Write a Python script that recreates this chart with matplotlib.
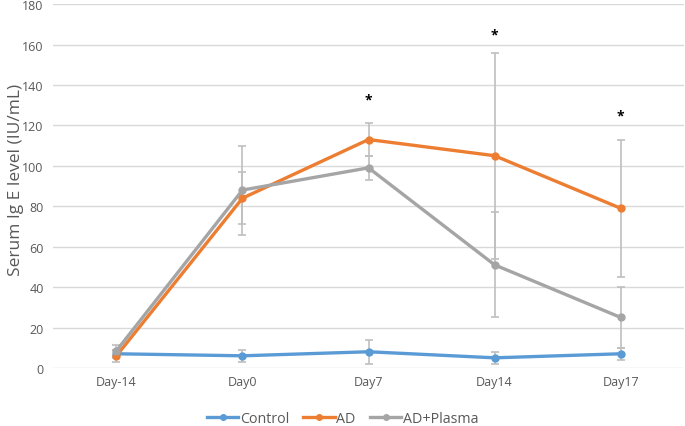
import matplotlib.pyplot as plt
import numpy as np

# --- values ---
days = ["Day-14", "Day0", "Day7", "Day14", "Day17"]
control = [7, 6, 8, 5, 7]
control_err = [2, 3, 6, 3, 3]
ad = [6, 84, 113, 105, 79]
ad_err = [3, 13, 8, 51, 34]
plasma = [8.5, 88, 99, 51, 25]
plasma_err = [3, 22, 6, 26, 15]
star_y = [None, None, 133, 165, 125]

plt.rcParams['font.family'] = ['Open Sans', 'DejaVu Sans']
text_col = "#595959"

fig = plt.figure(figsize=(6.85, 4.27), dpi=100)
ax = fig.add_axes([0.078, 0.136, 0.92, 0.852])
x = np.arange(len(days))

series = [
    (control, control_err, "#5B9BD5", "Control"),
    (ad, ad_err, "#ED7D31", "AD"),
    (plasma, plasma_err, "#A5A5A5", "AD+Plasma"),
]
for vals, err, col, lab in series:
    ax.errorbar(x, vals, yerr=err, fmt='none', ecolor="#BFBFBF",
                elinewidth=1.2, capsize=3, capthick=1.2, zorder=2)
    ax.plot(x, vals, color=col, lw=2.4, marker='o', ms=5, label=lab, zorder=3)

for i, sy in enumerate(star_y):
    if sy is not None:
        ax.text(x[i], sy, "*", ha='center', va='center', fontsize=10,
                fontweight='bold', color='black')

ax.set_xlim(-0.5, 4.5)
ax.set_ylim(0, 180)
ax.set_yticks(np.arange(0, 181, 20))
ax.set_xticks(x)
ax.set_xticklabels(days)
ax.grid(axis='y', color="#D9D9D9", lw=1, zorder=0)
ax.set_axisbelow(True)
for s in ax.spines.values():
    s.set_visible(False)
ax.tick_params(length=0, labelsize=9, colors=text_col)
ax.tick_params(axis='x', pad=5)
ax.tick_params(axis='y', pad=7)
ax.set_ylabel("Serum Ig E level (IU/mL)", fontsize=12.5, color=text_col)
ax.yaxis.set_label_coords(-0.047, 0.52)

fig.legend(loc='lower center', bbox_to_anchor=(0.5, -0.03), ncol=3, frameon=False,
           fontsize=10.3, labelcolor=text_col, handlelength=2.2, handletextpad=0.1,
           columnspacing=1.0, markerscale=0.8)

fig.savefig("out.png", dpi=100)
